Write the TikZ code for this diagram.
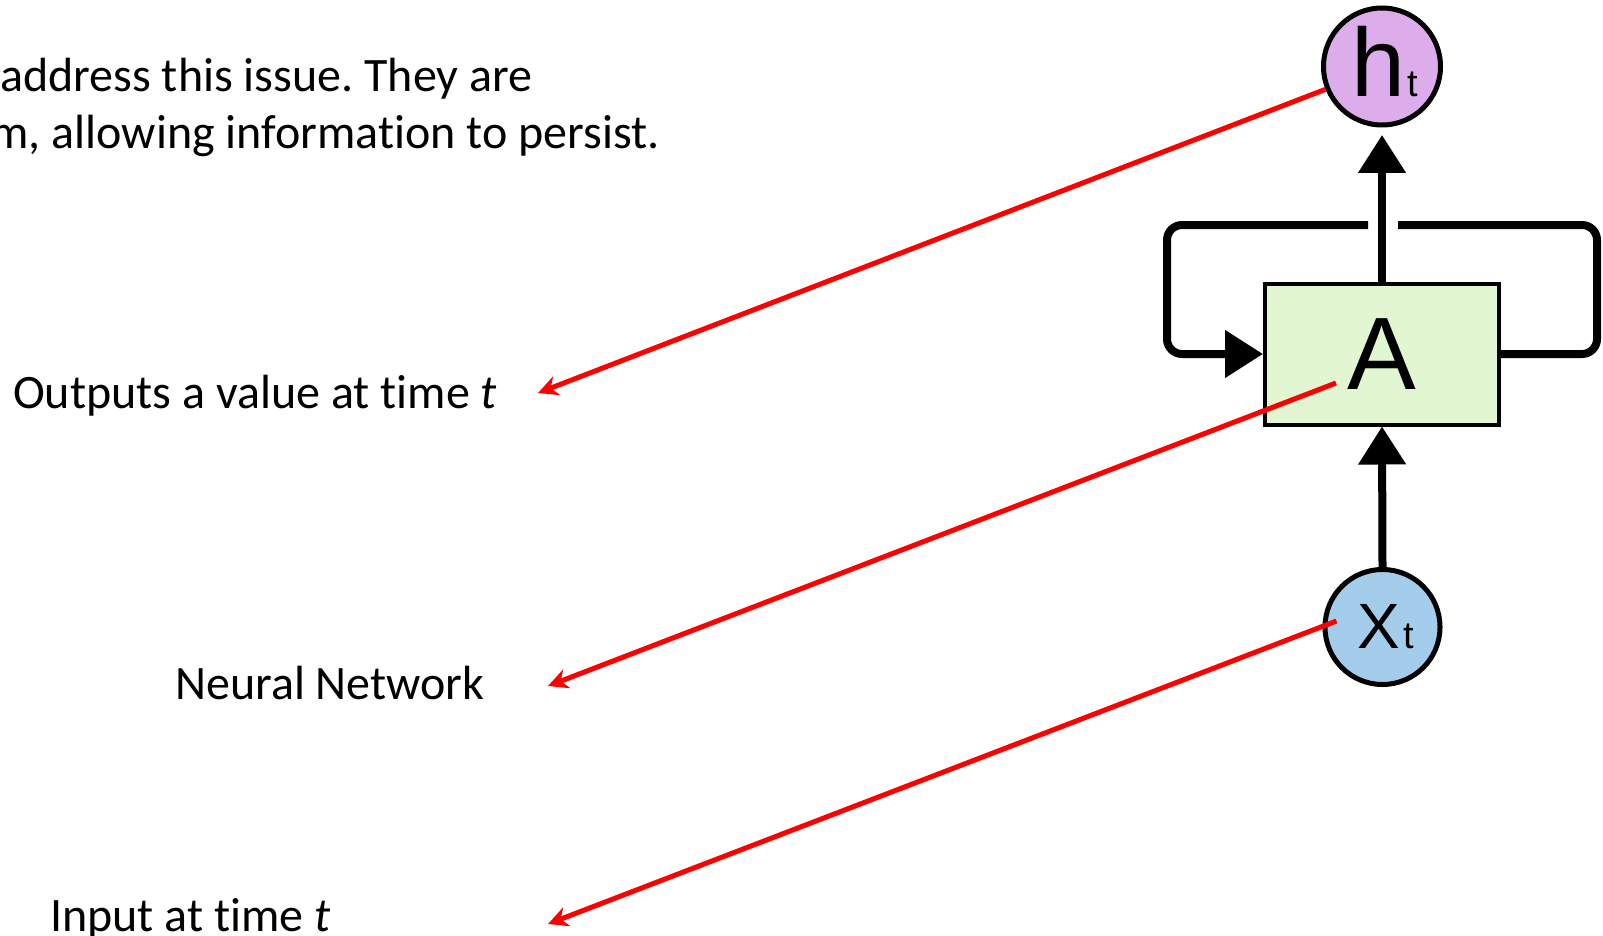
\documentclass[tikz,border=0pt]{standalone}
\usepackage{fontspec}
\setmainfont{Carlito}[Ligatures=NoCommon]
\newfontfamily\diagfont{Liberation Sans}
\usetikzlibrary{arrows.meta}
\definecolor{hfill}{HTML}{DDADEB}
\definecolor{xfill}{HTML}{A4CDEC}
\definecolor{cellfill}{HTML}{E1F6D1}
\definecolor{pointer}{HTML}{FF0000}
\frenchspacing
\begin{document}
\begin{tikzpicture}[x=1pt,y=-1pt,
  caption/.style={inner sep=0pt,font=\fontsize{48}{56}\selectfont},
  statenode/.style={circle,draw=black,line width=5pt,minimum size=117pt,inner sep=0pt},
  cell/.style={draw=black,line width=4pt,fill=cellfill,minimum width=234pt,minimum height=141pt,inner sep=0pt},
  flow/.style={line width=8pt,draw=black},
  bigtip/.style={-{Triangle[length=38pt,width=46pt]}},
  pointerline/.style={draw=pointer,line width=5pt,-{Stealth[length=20pt,width=20pt]}}
]
\useasboundingbox (0,0) rectangle (1603,936);

% recurrent cell with its input and output
\node[statenode,fill=hfill] (h) at (1382,66.5) {};
\node[inner sep=0pt,anchor=base] (hlabel) at (1385,97)
  {\diagfont\fontsize{97}{97}\selectfont h\kern2pt\fontsize{38}{38}\selectfont t};
\node[cell,font=\diagfont\fontsize{103}{103}\selectfont] (A) at (1382,354) {A};
\node[statenode,minimum size=115pt,fill=xfill] (x) at (1382.5,627) {};
\node[inner sep=0pt,anchor=base] (xlabel) at (1386,648)
  {\diagfont\fontsize{64}{64}\selectfont X\kern3pt\fontsize{38}{38}\selectfont t};

% flow arrows
\draw[flow,bigtip] (x.north) -- (A.south);
\draw[flow,bigtip,shorten >=7.5pt] (A.north) -- (h.south);

% recurrent loop, broken where it passes the output arrow
\coordinate (rx) at (1597,225);
\coordinate (lx) at (1167,225);
\coordinate (gapR) at (1398,225);
\coordinate (gapL) at (1368,225);
\draw[flow,rounded corners=15pt] (A.east) -- (A.east -| rx) -- (rx) -- (gapR);
\draw[flow,rounded corners=15pt,bigtip] (gapL) -- (lx) -- (lx |- A.west) -- (A.west);

% explanatory text
\node[caption,anchor=base west] (intro1) at (0,92) {address this issue. They are};
\node[caption,anchor=base east] (intro2) at (660,149) {m, allowing information to persist.};
\node[caption,anchor=base west] (outlabel) at (13,408) {Outputs a value at time \textit{t}};
\node[caption,anchor=base west] (nnlabel) at (175,699) {Neural Network};
\node[caption,anchor=base west] (inlabel) at (50,931) {Input at time \textit{t}};

% pointers from the parts of the cell to their descriptions
\coordinate (outtip) at (538,393);
\coordinate (nntip) at (548,686);
\coordinate (intip) at (548,924);
\draw[pointerline] (h.202) -- (outtip);
\draw[pointerline] ([xshift=-46pt,yshift=-29pt]A.center) -- (nntip);
\draw[pointerline] ([xshift=-46pt,yshift=6pt]x.center) -- (intip);
\end{tikzpicture}
\end{document}
